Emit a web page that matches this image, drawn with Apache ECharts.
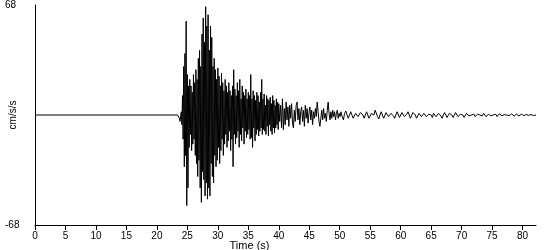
<!DOCTYPE html>
<html>
<head>
<meta charset="utf-8">
<script src="https://cdn.jsdelivr.net/npm/echarts@6/dist/echarts.min.js"></script>
<style>
html,body{margin:0;padding:0;background:#fff;}
#chart{width:550px;height:250px;}
</style>
</head>
<body>
<div id="chart"></div>
<script>
// Tick labels
const xTicks = [0,5,10,15,20,25,30,35,40,45,50,55,60,65,70,75,80];
const yTicks = [-68, 68];

// Quiet part before the event (time s, acceleration cm/s/s)
const preEventTimes = [0, 23.4];
const preEventValues = [0, 0];

// Strong motion: samples every 0.1 s from 23.5 s
const strongStart = 23.5, strongStep = 0.1;
const strongMotion = [
  0, -1, -2, -4, -3, 2, -6, 12, -15, 30,
  -32, 38, -25, 58, -56, 25, -45, 18, -20, 22,
  -12, 18, -22, 14, -18, 25, -15, 20, -25, 28,
  -30, 22, -38, 35, -28, 40, -45, 30, -54, 50,
  -35, 60, -40, 45, -50, 67, -42, 55, -52, 62,
  -45, 40, -50, 55, -30, 48, -38, 30, -42, 35,
  -25, 28, -32, 22, -28, 29, -20, 24, -30, 18,
  -22, 26, -15, 20, -25, 15, -18, 22, -12, 18,
  -20, 14, -16, 20, -10, 15, -22, 12, -15, 18,
  -32, 28, -12, 16, -18, 12, -14, 20, -10, 15,
  -20, 22, -12, 10, -16, 18, -8, 14, -18, 12,
  -10, 16, -14, 10, -12, 14, -9, 12, -15, 25,
  -14, 10, -20, 15, -8, 12, -16, 9, -12, 14,
  -9, 12, -13, 8, -10, 14, -8, 22, -12, 10,
  -9, 13, -10, 6, -12, 12, -7, 10, -13, 9,
  -6, 11, -10, 7, -12, 12, -8, 9, -11, 6,
  -8, 10, -6, 8, -9, 7
];

// Coda: samples every 0.15 s from 40.15 s
const codaStart = 40.15, codaStep = 0.15;
const coda = [
  -4, 6, -8, 10, -9, 4, -6, 8, -3, 5,
  -7, 6, -2, 7, -5, -8, 3, -4, 6, 8,
  -3, 4, -6, 2, 5, -4, 3, -7, 6, -2,
  4, -5, 1, 5, -3, 3, -6, 2, -2, 4,
  -1, 8, 2, -4, -7, -2, 3, -3, 4, -2,
  1, -4, 3, 8, 1, -3, 2, -2, 3, -1,
  2, -3, 1, 3, -2, 1, -1
];

// Tail: samples every 0.2 s from 50.2 s
const tailStart = 50.2, tailStep = 0.2;
const tail = [
  2, -1, -3, 1, 2.5, 0, -2, -1, 2, 1,
  -2, -2.5, 1, 2, -1, -2, 1.5, 2.5, 0, -2,
  -1, 2, 1, -2, -1.5, 1, 2, 0, 3, 2.5,
  -1, -2.5, 0, 2, 1, -2, -1, 1.5, 2, -1,
  -2, 1, 2, -0.5, -2, 0, 2, 1, -1.5, -1,
  1.5, 2, -1, -2, 0.5, 2, 0, -2, -1, 1.5,
  2, 0, -2, -1, 1, 2, -1, -1.5, 1, 1.5,
  -1, -2, 0.5, 1.5, 0, -1.5, 1, 2, -1, -1.5,
  1, 1.5, -0.5, -2, 0, 1.5, 1, -1.5, -1, 1,
  2, 0, -1.5, -0.5, 1.5, 1, -1, -2, 0.5, 1.5,
  0, -1.5, -1, 1, 1.5, -0.5, -1.5, 0, 1, 0.5,
  -1, -1.5, 0.5, 1.5, 0, -1, -0.5, 1, 1, -1,
  -1, 0.5, 1.2, -0.5, -1, 0, 1, 0.5, -1, -0.5,
  0.8, 1, -0.5, -1, 0.2, 0.8, 0, -0.8, -0.4, 0.6,
  0.7, -0.3, -0.7, 0.2, 0.6, 0, -0.6, -0.2, 0.5, 0.4,
  -0.4, -0.5, 0.3, 0.5, -0.2, -0.4, 0.2, 0.4, -0.3, -0.2,
  0
];

const data = [];
preEventTimes.forEach((t, i) => data.push([t, preEventValues[i]]));
function addSegment(start, step, values) {
  values.forEach((v, i) => data.push([Number((start + i * step).toFixed(3)), v]));
}
addSegment(strongStart, strongStep, strongMotion);
addSegment(codaStart, codaStep, coda);
addSegment(tailStart, tailStep, tail);

const font = '"Liberation Sans", Arial, sans-serif';
const chart = echarts.init(document.getElementById('chart'), null, {renderer: 'canvas'});
chart.setOption({
  animation: false,
  backgroundColor: '#fff',
  grid: {left: 35, right: 14, top: 5, bottom: 25, containLabel: false, outerBoundsMode: 'none'},
  xAxis: {
    type: 'value', min: 0, max: 82.2,
    name: 'Time (s)', nameLocation: 'middle', nameGap: 15, nameMoveOverlap: false,
    nameTextStyle: {color: '#000', fontSize: 11, fontFamily: font, padding: [0, 72, 0, 0]},
    axisLine: {show: true, onZero: false, lineStyle: {color: '#000', width: 1}},
    axisTick: {show: true, length: 5, lineStyle: {color: '#000'}, customValues: xTicks},
    axisLabel: {color: '#000', fontSize: 10, fontFamily: font, margin: 6, customValues: xTicks},
    splitLine: {show: false}
  },
  yAxis: {
    type: 'value', min: -68, max: 68,
    name: 'cm/s/s', nameLocation: 'middle', nameGap: 17, nameMoveOverlap: false,
    nameTextStyle: {color: '#000', fontSize: 10, fontFamily: font},
    axisLine: {show: true, onZero: false, lineStyle: {color: '#000', width: 1}},
    axisTick: {show: false},
    axisLabel: {color: '#000', fontSize: 10, fontFamily: font, align: 'left', margin: 30, customValues: yTicks},
    splitLine: {show: false}
  },
  series: [{
    type: 'line', data: data, showSymbol: false, symbol: 'none',
    lineStyle: {color: '#000', width: 1}, sampling: null
  }]
});
</script>
</body>
</html>
